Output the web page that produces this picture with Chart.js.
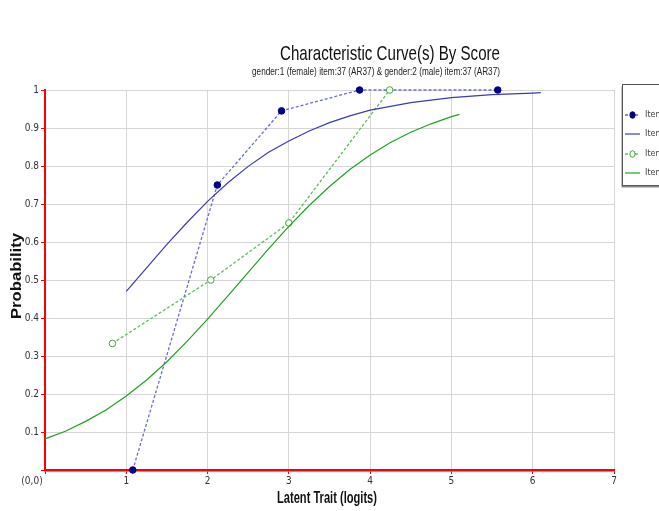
<!DOCTYPE html>
<html>
<head>
<meta charset="utf-8">
<script src="https://cdn.jsdelivr.net/npm/chart.js@4.4.1/dist/chart.umd.min.js"></script>
<style>
  html, body { margin: 0; padding: 0; background: #fff; overflow: hidden; }
  canvas { display: block; }
</style>
</head>
<body>
<canvas id="icc" width="659" height="511"></canvas>
<script>
// Item 37 (AR37): observed score proportions and model curves by gender
const titleText = 'Characteristic Curve(s) By Score';
const subtitleText = 'gender:1 (female) item:37 (AR37) & gender:2 (male) item:37 (AR37)';
const xTitle = 'Latent Trait (logits)';
const yTitle = 'Probability';
const originLabel = '(0,0)';

const seriesNames = [
  'Item:37 (AR37) gender:1 (female) observed',
  'Item:37 (AR37) gender:1 (female) expected',
  'Item:37 (AR37) gender:2 (male) observed',
  'Item:37 (AR37) gender:2 (male) expected'
];

// gender:1 (female) observed
const femaleObsX = [1.08, 2.12, 2.91, 3.87, 5.57];
const femaleObsY = [0.0, 0.75, 0.945, 1.0, 1.0];

// gender:1 (female) model curve
const femaleCurveX = [1.0, 1.25, 1.5, 1.75, 2.0, 2.25, 2.5, 2.75, 3.0, 3.25, 3.5, 3.75, 4.0, 4.5, 5.0, 5.5, 6.0, 6.1];
const femaleCurveY = [0.470, 0.532, 0.594, 0.652, 0.707, 0.756, 0.799, 0.836, 0.866, 0.892, 0.914, 0.932, 0.947, 0.967, 0.980, 0.988, 0.992, 0.993];

// gender:2 (male) observed
const maleObsX = [0.83, 2.04, 3.0, 4.24];
const maleObsY = [0.333, 0.5, 0.65, 1.0];

// gender:2 (male) model curve
const maleCurveX = [0.0, 0.25, 0.5, 0.75, 1.0, 1.25, 1.5, 1.75, 2.0, 2.25, 2.5, 2.75, 3.0, 3.25, 3.5, 3.75, 4.0, 4.25, 4.5, 4.75, 5.0, 5.1];
const maleCurveY = [0.082, 0.102, 0.128, 0.158, 0.195, 0.237, 0.285, 0.339, 0.397, 0.458, 0.520, 0.582, 0.641, 0.696, 0.746, 0.791, 0.829, 0.862, 0.889, 0.911, 0.930, 0.936];

const xTicks = [0, 1, 2, 3, 4, 5, 6, 7];
const yTicks = [0, 0.1, 0.2, 0.3, 0.4, 0.5, 0.6, 0.7, 0.8, 0.9, 1];

const toPoints = (xs, ys) => xs.map((x, i) => ({ x: x, y: ys[i] }));

const NARROW = '"Liberation Sans Narrow", "DejaVu Sans Condensed", "Liberation Sans", Arial, sans-serif';
const SANS = '"Liberation Sans", Arial, sans-serif';

const styles = [
  { line: '#6b6bd6', dash: [3, 2], width: 1.3, point: '#00008b', fill: '#00008b', radius: 3.3 },
  { line: '#3a3ab8', dash: [], width: 1.2, point: null },
  { line: '#5cbf5c', dash: [3, 2], width: 1.3, point: '#3ca83c', fill: '#ffffff', radius: 3.3 },
  { line: '#22a022', dash: [], width: 1.2, point: null }
];

// text fitted horizontally to a given width, optionally rotated
function fittedText(ctx, text, cx, cy, font, color, targetW, angle) {
  ctx.save();
  ctx.font = font;
  ctx.fillStyle = color;
  ctx.textAlign = 'center';
  ctx.textBaseline = 'middle';
  const w = ctx.measureText(text).width;
  const s = targetW / w;
  ctx.translate(cx, cy);
  if (angle) ctx.rotate(angle);
  ctx.scale(s, 1);
  ctx.fillText(text, 0, 0);
  ctx.restore();
}

const decorations = {
  id: 'decorations',
  afterDraw(chart) {
    const ctx = chart.ctx;
    const area = chart.chartArea;
    fittedText(ctx, titleText, 390, 54, '21px ' + SANS, '#111', 220, 0);
    fittedText(ctx, subtitleText, 376, 72, '10px ' + SANS, '#222', 248, 0);
    fittedText(ctx, xTitle, 327, 499, 'bold 16px ' + SANS, '#111', 100, 0);
    fittedText(ctx, yTitle, 17, 276, 'bold 15px ' + SANS, '#111', 86, -Math.PI / 2);
    // origin label
    ctx.save();
    ctx.font = '10px ' + NARROW;
    ctx.fillStyle = '#333';
    ctx.textAlign = 'center';
    ctx.textBaseline = 'middle';
    ctx.fillText(originLabel, area.left - 13, area.bottom + 11);
    ctx.restore();

    // legend box, partly outside the canvas
    const bx = 622.5, by = 84.5, bw = 80, bh = 101;
    ctx.save();
    ctx.fillStyle = '#8a8a8a';
    ctx.fillRect(bx - 1, by + 2, bw, bh);
    ctx.fillStyle = '#ffffff';
    ctx.fillRect(bx, by, bw, bh);
    ctx.strokeStyle = '#555';
    ctx.lineWidth = 1;
    ctx.strokeRect(bx, by, bw, bh);
    const rows = [115, 134, 154, 173];
    rows.forEach((ry, i) => {
      const st = styles[i];
      ctx.beginPath();
      ctx.setLineDash(st.dash);
      ctx.strokeStyle = st.line;
      ctx.lineWidth = st.width;
      ctx.moveTo(625, ry);
      ctx.lineTo(640, ry);
      ctx.stroke();
      ctx.setLineDash([]);
      if (st.point) {
        ctx.beginPath();
        ctx.ellipse(632.5, ry, 2.6, 3.3, 0, 0, Math.PI * 2);
        ctx.fillStyle = st.fill;
        ctx.fill();
        ctx.strokeStyle = st.point;
        ctx.lineWidth = 1;
        ctx.stroke();
      }
      ctx.font = '9px ' + NARROW;
      ctx.fillStyle = '#444';
      ctx.textAlign = 'left';
      ctx.textBaseline = 'middle';
      ctx.fillText(seriesNames[i], 645, ry);
    });
    ctx.restore();
  }
};

function lineSet(i, xs, ys) {
  const st = styles[i];
  return {
    label: seriesNames[i],
    data: toPoints(xs, ys),
    showLine: true,
    borderColor: st.line,
    borderWidth: st.width,
    borderDash: st.dash,
    tension: 0,
    pointRadius: st.point ? st.radius : 0,
    pointHoverRadius: st.point ? st.radius : 0,
    pointBackgroundColor: st.fill || st.line,
    pointBorderColor: st.point || st.line,
    pointBorderWidth: 1,
    pointStyle: 'circle',
    clip: false
  };
}

new Chart(document.getElementById('icc'), {
  type: 'scatter',
  data: {
    datasets: [
      lineSet(1, femaleCurveX, femaleCurveY),
      lineSet(3, maleCurveX, maleCurveY),
      lineSet(2, maleObsX, maleObsY),
      lineSet(0, femaleObsX, femaleObsY)
    ]
  },
  options: {
    responsive: false,
    devicePixelRatio: 1,
    animation: false,
    layout: { padding: { left: 0, top: 90, right: 45, bottom: 0 } },
    plugins: {
      legend: { display: false },
      title: { display: false },
      tooltip: { enabled: false }
    },
    scales: {
      x: {
        type: 'linear',
        min: 0,
        max: 7,
        afterBuildTicks(scale) { scale.ticks = xTicks.map(v => ({ value: v })); },
        afterFit(scale) { scale.height = 41; },
        grid: { color: '#d6d6d6', lineWidth: 1, tickColor: '#ff0000', tickLength: 4, drawTicks: true },
        border: { color: '#ff0000', width: 2.5 },
        ticks: {
          color: '#333',
          font: { size: 10, family: NARROW },
          padding: 1,
          maxRotation: 0,
          callback: v => (v === 0 ? '' : String(v))
        },
        title: { display: false, text: xTitle }
      },
      y: {
        type: 'linear',
        min: 0,
        max: 1,
        afterBuildTicks(scale) { scale.ticks = yTicks.map(v => ({ value: v })); },
        afterFit(scale) { scale.width = 45; },
        grid: { color: '#d6d6d6', lineWidth: 1, tickColor: '#ff0000', tickLength: 4, drawTicks: true },
        border: { color: '#ff0000', width: 2 },
        ticks: {
          color: '#333',
          font: { size: 10, family: NARROW },
          padding: 2,
          callback: v => (v === 0 ? '' : String(Math.round(v * 10) / 10))
        },
        title: { display: false, text: yTitle }
      }
    }
  },
  plugins: [decorations]
});
</script>
</body>
</html>
